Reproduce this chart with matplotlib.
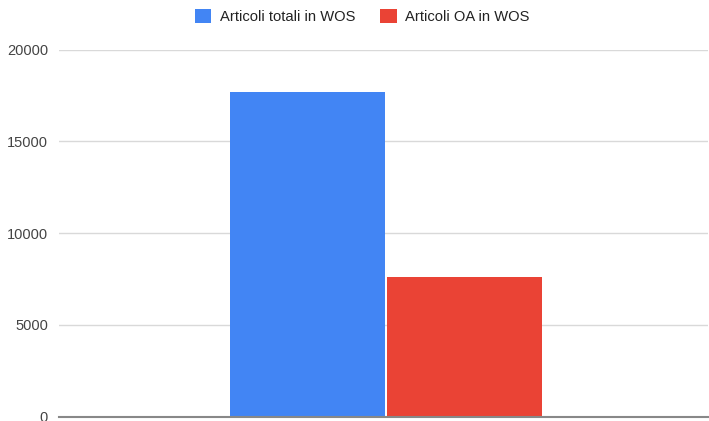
import matplotlib.pyplot as plt
from matplotlib.patches import Patch

plt.rcParams['font.family'] = ['Liberation Sans', 'DejaVu Sans']

series = ['Articoli totali in WOS', 'Articoli OA in WOS']
values = [17700, 7630]
colors = ['#4285F4', '#EA4335']
yticks = [0, 5000, 10000, 15000, 20000]

fig = plt.figure(figsize=(7.09, 4.21), dpi=100)
ax = fig.add_axes([0.0832, 0.0102, 0.9155, 0.8718])

width = 0.238
offsets = [-0.117, 0.125]
for off, v, c in zip(offsets, values, colors):
    ax.bar(off, v, width=width, color=c, zorder=3)

ax.set_xlim(-0.5, 0.5)
ax.set_ylim(0, 20000)
ax.set_yticks(yticks)
ax.set_xticks([])
ax.tick_params(axis='y', length=0, pad=8, labelsize=10.5, labelcolor='#444444')
ax.grid(axis='y', color='#d9d9d9', linewidth=1, zorder=0)
for s in ['top', 'right', 'left']:
    ax.spines[s].set_visible(False)
ax.spines['bottom'].set_color('#888888')
ax.spines['bottom'].set_linewidth(1.5)
ax.spines['bottom'].set_zorder(4)

handles = [Patch(facecolor=c, edgecolor='none') for c in colors]
fig.legend(handles, series, loc='center', bbox_to_anchor=(0.511, 0.96), ncol=2,
           frameon=False, fontsize=10.6, handlelength=1.1, handleheight=1.1,
           handletextpad=0.6, columnspacing=1.7, labelcolor='#222222')

fig.savefig('out.png', dpi=100)
